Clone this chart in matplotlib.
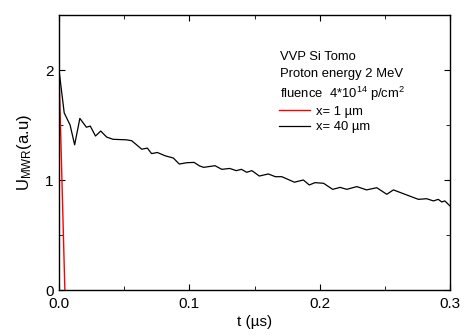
import matplotlib
matplotlib.use("Agg")
import matplotlib.pyplot as plt
from matplotlib.ticker import MultipleLocator, FormatStrFormatter

plt.rcParams["font.family"] = ["Liberation Sans", "DejaVu Sans"]
plt.rcParams["mathtext.fontset"] = "custom"
plt.rcParams["mathtext.rm"] = "Liberation Sans"
plt.rcParams["mathtext.it"] = "Liberation Sans"

# x = 1 um
t_red = [0.0, 0.0045]
u_red = [2.0, 0.0]

# x = 40 um
t_black = [0.0, 0.004, 0.0085, 0.012, 0.016, 0.021, 0.024, 0.028, 0.032, 0.0366,
           0.0415, 0.052, 0.0558, 0.0635, 0.0678, 0.071, 0.0755, 0.0814, 0.0877,
           0.0923, 0.098, 0.1036, 0.108, 0.111, 0.1197, 0.1249, 0.131, 0.136,
           0.140, 0.144, 0.148, 0.1537, 0.1606, 0.166, 0.171, 0.1806, 0.1875,
           0.192, 0.1965, 0.203, 0.210, 0.2157, 0.2208, 0.2285, 0.236, 0.2438,
           0.2515, 0.2566, 0.2668, 0.2758, 0.282, 0.2873, 0.291, 0.2937, 0.296, 0.3]
u_black = [2.0, 1.61, 1.5, 1.32, 1.56, 1.48, 1.49, 1.40, 1.445, 1.39,
           1.37, 1.365, 1.357, 1.28, 1.29, 1.24, 1.25, 1.22, 1.20,
           1.145, 1.157, 1.16, 1.127, 1.115, 1.13, 1.097, 1.105, 1.085,
           1.097, 1.07, 1.085, 1.036, 1.055, 1.03, 1.03, 0.98, 1.0,
           0.955, 0.976, 0.97, 0.915, 0.933, 0.915, 0.94, 0.91, 0.93,
           0.87, 0.91, 0.864, 0.824, 0.83, 0.81, 0.824, 0.80, 0.81, 0.764]

fig = plt.figure(figsize=(4.65, 3.36), dpi=100)
ax = fig.add_axes([59 / 465, 46 / 336, 391 / 465, 275 / 336])

ax.plot(t_red, u_red, color="red", lw=1.0, label="x= 1 \u00b5m")
ax.plot(t_black, u_black, color="black", lw=0.9, label="x= 40 \u00b5m")

ax.set_xlim(0, 0.3)
ax.set_ylim(0, 2.5)
ax.xaxis.set_major_locator(MultipleLocator(0.1))
ax.xaxis.set_minor_locator(MultipleLocator(0.05))
ax.yaxis.set_major_locator(MultipleLocator(1))
ax.yaxis.set_minor_locator(MultipleLocator(0.5))
ax.xaxis.set_major_formatter(FormatStrFormatter("%.1f"))
ax.tick_params(which="both", direction="in", top=True, right=True, labelsize=11)
ax.tick_params(axis="x", pad=5)
ax.tick_params(axis="y", pad=4)
ax.tick_params(which="major", length=4)
ax.tick_params(which="minor", length=3)
for s in ax.spines.values():
    s.set_linewidth(1.0)

ax.set_xlabel("t (\u00b5s)", fontsize=11, labelpad=3)
ax.set_ylabel(r"U$_{\mathrm{MWR}}$(a.u)", fontsize=12, labelpad=8)

ax.text(0.1695, 2.12, "VVP Si Tomo", fontsize=9.4, va="center")
ax.text(0.1695, 1.965, "Proton energy 2 MeV", fontsize=9.4, va="center")
ax.text(0.1695, 1.78, r"fluence  4*10$^{14}$ p/cm$^{2}$", fontsize=9.4, va="center")

ax.legend(loc="upper left", bbox_to_anchor=(0.563, 0.67), frameon=False, fontsize=9.4,
          handlelength=2.4, handletextpad=0.4, labelspacing=0.25,
          borderaxespad=0, borderpad=0)

fig.savefig("out.png", dpi=100)
